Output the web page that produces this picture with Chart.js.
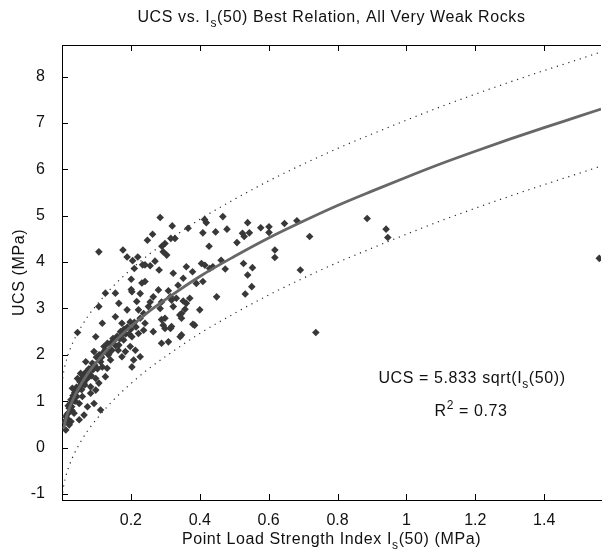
<!DOCTYPE html>
<html>
<head>
<meta charset="utf-8">
<script src="https://cdn.jsdelivr.net/npm/chart.js@4.4.1/dist/chart.umd.min.js"></script>
<style>
html,body{margin:0;padding:0;background:#fff;}
#wrap{width:605px;height:555px;}
</style>
</head>
<body>
<div id="wrap"><canvas id="c" width="605" height="555"></canvas></div>
<script>
// ---- Data ----
const pointX = [
0.126,0.155,0.203,0.107,0.165,0.217,0.189,0.222,0.155,0.117,0.174,0.198,0.227,0.045,0.098,0.222,0.203,0.179,0.122,0.141,
0.165,0.198,0.184,0.213,0.093,0.107,0.141,0.174,0.208,0.227,0.069,0.088,0.117,0.131,0.203,0.054,0.074,0.098,0.126,0.045,
0.064,0.083,0.107,0.030,0.040,0.059,0.083,0.098,0.026,0.050,0.074,0.093,0.021,0.035,0.064,0.011,0.026,0.050,0.112,0.021,
0.011,0.015,0.018,0.032,0.038,0.042,0.055,0.060,0.068,0.078,0.085,0.090,0.100,0.112,0.120,0.135,0.145,0.150,0.160,0.170,
0.180,0.190,0.185,0.200,0.210,0.008,0.016,0.028,
0.013,0.019,0.024,0.029,0.033,0.037,0.043,0.047,0.052,0.057,0.062,0.066,0.072,0.076,0.081,0.087,0.095,0.103,0.108,0.115,
0.125,0.132,0.138,0.148,0.155,0.163,0.168,0.176,0.195,0.215,
0.285,0.320,0.414,0.419,0.467,0.366,0.409,0.446,0.479,0.508,0.263,0.248,0.316,0.328,0.299,0.290,0.427,0.294,0.304,0.270,
0.241,0.256,0.361,0.379,0.323,0.282,0.429,0.438,0.474,0.462,0.241,0.352,0.409,0.337,0.390,0.280,0.309,0.265,0.315,0.332,
0.371,0.449,0.251,0.285,0.323,0.357,0.400,0.237,0.342,0.347,0.299,0.241,0.294,0.385,0.315,0.265,0.237,0.347,0.405,0.415,
0.539,0.524,0.529,0.544,0.577,0.601,0.601,0.646,0.682,0.719,0.527,0.553,0.618,0.618,0.692,0.539,0.532,0.551,0.737,
0.318,0.380,0.299,0.289,0.309,0.289,0.347,0.256,0.289,0.318,0.352,0.361,0.343,
0.886,0.941,0.946,1.560,
0.107,0.177,0.189,0.205,0.220,0.234,0.210,0.201,0.232,0.201,0.227
];
const pointY = [
3.33,3.33,3.36,3.04,3.11,3.15,2.97,2.97,2.82,2.68,2.68,2.71,2.79,2.48,2.39,2.46,2.39,2.32,2.18,2.25,
2.21,2.18,2.07,2.10,2.07,1.92,1.89,1.96,1.89,1.96,1.85,1.82,1.74,1.71,1.74,1.60,1.57,1.49,1.53,1.49,
1.39,1.31,1.39,1.28,1.21,1.10,1.17,1.24,1.03,0.95,0.88,0.95,0.85,0.74,0.70,0.67,0.56,0.60,0.81,0.49,
0.38,0.72,0.90,1.12,1.00,1.30,1.35,1.50,1.62,1.70,1.55,1.68,1.95,1.85,2.05,2.00,2.10,2.30,2.40,2.50,
2.55,2.60,2.45,2.55,2.70,0.55,0.62,0.88,
0.60,0.75,0.95,0.80,1.05,1.18,1.10,1.25,1.42,1.25,1.55,1.35,1.48,1.62,1.55,1.72,1.78,1.70,2.00,1.95,
2.10,2.25,2.05,2.35,2.20,2.10,2.35,2.45,2.45,2.60,
4.96,4.78,4.92,4.85,4.98,4.73,4.63,4.65,4.71,4.42,4.60,4.47,4.51,4.51,4.40,4.34,4.34,4.22,4.15,4.02,
3.94,3.92,3.90,3.79,3.76,3.83,3.86,3.90,3.85,4.04,3.58,3.65,3.58,3.50,3.54,3.40,3.38,3.25,3.25,3.22,
3.22,3.25,3.04,3.00,3.04,2.98,2.97,2.89,2.86,2.79,2.79,2.68,2.64,2.64,2.57,2.50,2.53,2.43,3.97,3.93,
4.85,4.62,4.55,4.63,4.74,4.76,4.64,4.83,4.89,4.55,3.97,3.88,4.26,4.10,3.83,3.72,3.31,3.47,2.48,
2.61,2.66,2.57,2.25,2.28,2.76,2.89,3.14,3.14,3.18,3.16,3.11,2.39,
4.94,4.71,4.53,4.08,
4.22,4.26,4.11,4.03,4.11,3.94,3.86,3.63,3.55,3.41,3.32
];
const fitX = [0.005,0.01,0.02,0.035,0.05,0.075,0.1,0.15,0.2,0.25,0.3,0.4,0.5,0.6,0.7,0.8,0.9,1.0,1.1,1.2,1.3,1.4,1.5,1.565];
const fitY = [0.41,0.58,0.82,1.09,1.30,1.60,1.84,2.26,2.61,2.92,3.19,3.69,4.12,4.52,4.88,5.22,5.53,5.83,6.12,6.39,6.65,6.90,7.14,7.30];
const bandX = [0.002,0.005,0.01,0.02,0.035,0.05,0.075,0.1,0.15,0.2,0.25,0.3,0.4,0.5,0.6,0.7,0.8,0.9,1.0,1.1,1.2,1.3,1.4,1.5,1.565];
const upperY = [1.49,1.64,1.81,2.05,2.32,2.53,2.83,3.07,3.49,3.84,4.15,4.42,4.92,5.35,5.75,6.11,6.45,6.76,7.06,7.35,7.62,7.88,8.13,8.37,8.53];
const lowerY = [-0.97,-0.82,-0.65,-0.41,-0.14,0.07,0.37,0.61,1.03,1.38,1.69,1.96,2.46,2.89,3.29,3.65,3.99,4.30,4.60,4.89,5.16,5.42,5.67,5.91,6.07];
const xTicks = [0.2,0.4,0.6,0.8,1,1.2,1.4];
const yTicks = [-1,0,1,2,3,4,5,6,7,8];

const pair = (xs, ys) => xs.map((x, i) => ({x: x, y: ys[i]}));
const FONT = '"Liberation Sans", Arial, sans-serif';
const TXT = '#111';

function drawRich(ctx, parts, cx, cy) {
  ctx.letterSpacing = '0.6px';
  let w = 0;
  parts.forEach(p => { ctx.font = (p.sub || p.sup ? '12px ' : '16px ') + FONT; p.w = ctx.measureText(p.t).width; w += p.w; });
  let x = cx - w / 2;
  ctx.textBaseline = 'middle';
  ctx.textAlign = 'left';
  ctx.fillStyle = TXT;
  parts.forEach(p => {
    ctx.font = (p.sub || p.sup ? '12px ' : '16px ') + FONT;
    const dy = p.sub ? 6 : (p.sup ? -6 : 0);
    ctx.fillText(p.t, x, cy + dy);
    x += p.w;
  });
  ctx.letterSpacing = '0px';
}

const decor = {
  id: 'decor',
  afterDraw(chart) {
    const ctx = chart.ctx;
    const a = chart.chartArea;
    const xs = chart.scales.x, ys = chart.scales.y;
    ctx.save();
    ctx.setLineDash([]);
    ctx.fillStyle = '#000';
    ctx.fillRect(Math.round(a.left), Math.round(a.top), Math.round(a.right - a.left), 1);
    xTicks.forEach(v => {
      const px = Math.round(xs.getPixelForValue(v));
      ctx.fillRect(px, Math.round(a.bottom) - 6, 1, 6);
      ctx.fillRect(px, Math.round(a.top), 1, 6);
    });
    yTicks.forEach(v => {
      const py = Math.round(ys.getPixelForValue(v));
      ctx.fillRect(Math.round(a.left), py, 6, 1);
    });
    drawRich(ctx, [{t: 'UCS vs. I'}, {t: 's', sub: true}, {t: '(50) Best Relation, All Very Weak Rocks'}], (a.left + a.right) / 2, 18);
    drawRich(ctx, [{t: 'Point Load Strength Index I'}, {t: 's', sub: true}, {t: '(50) (MPa)'}], (a.left + a.right) / 2, 540);
    ctx.save();
    ctx.translate(20, (a.top + a.bottom) / 2);
    ctx.rotate(-Math.PI / 2);
    drawRich(ctx, [{t: 'UCS (MPa)'}], 0, 0);
    ctx.restore();
    drawRich(ctx, [{t: 'UCS = 5.833 sqrt(I'}, {t: 's', sub: true}, {t: '(50))'}], 472, 379);
    drawRich(ctx, [{t: 'R'}, {t: '2', sup: true}, {t: ' = 0.73'}], 471, 412);
    ctx.restore();
  }
};

new Chart(document.getElementById('c'), {
  type: 'scatter',
  data: {
    datasets: [
      {
        label: 'data',
        data: pair(pointX, pointY),
        pointStyle: 'rectRot',
        pointRadius: 3.8,
        backgroundColor: '#383838',
        borderWidth: 0,
        showLine: false,
        order: 2
      },
      {
        label: 'fit',
        data: pair(fitX, fitY),
        showLine: true,
        pointRadius: 0,
        borderColor: '#676767',
        borderWidth: 2.8,
        cubicInterpolationMode: 'monotone',
        order: 1
      },
      {
        label: 'upper',
        data: pair(bandX, upperY),
        showLine: true,
        pointRadius: 0,
        borderColor: '#2a2a2a',
        borderWidth: 1.2,
        borderDash: [1.2, 4.8],
        cubicInterpolationMode: 'monotone',
        order: 0
      },
      {
        label: 'lower',
        data: pair(bandX, lowerY),
        showLine: true,
        pointRadius: 0,
        borderColor: '#2a2a2a',
        borderWidth: 1.2,
        borderDash: [1.2, 4.8],
        cubicInterpolationMode: 'monotone',
        order: 0
      }
    ]
  },
  options: {
    responsive: false,
    animation: false,
    devicePixelRatio: 1,
    layout: {padding: {top: 45, right: 0, left: 0, bottom: 0}},
    plugins: {legend: {display: false}, tooltip: {enabled: false}, title: {display: false}},
    scales: {
      x: {
        type: 'linear',
        min: 0,
        max: 1.565,
        afterBuildTicks: s => { s.ticks = xTicks.map(v => ({value: v})); },
        afterFit: s => { s.height = 55; },
        grid: {display: false},
        border: {display: true, color: '#000', width: 1},
        ticks: {
          color: TXT,
          font: {family: FONT, size: 16},
          padding: 3,
          maxRotation: 0,
          autoSkip: false,
          callback: v => String(+(+v).toFixed(1))
        }
      },
      y: {
        type: 'linear',
        min: -1.13,
        max: 8.68,
        afterBuildTicks: s => { s.ticks = yTicks.map(v => ({value: v})); },
        afterFit: s => { s.width = 62; },
        grid: {display: false},
        border: {display: true, color: '#000', width: 1},
        ticks: {
          color: TXT,
          font: {family: FONT, size: 16},
          padding: 9,
          autoSkip: false,
          callback: v => String(Math.round(v))
        }
      }
    }
  },
  plugins: [decor]
});
</script>
</body>
</html>
